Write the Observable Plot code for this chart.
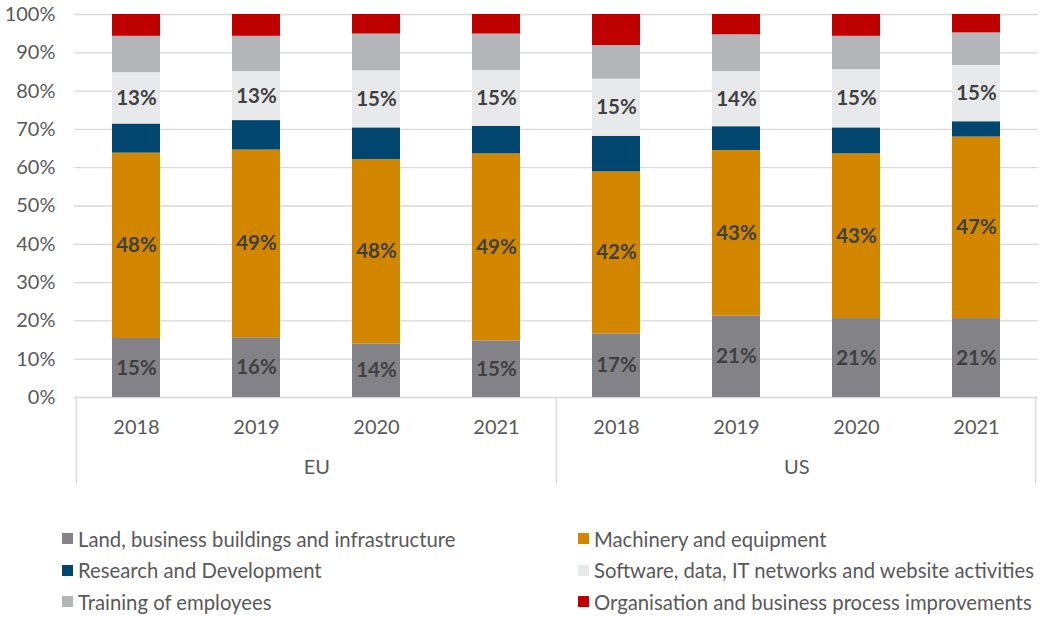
<!DOCTYPE html>
<html>
<head>
<meta charset="utf-8">
<script src="https://cdn.jsdelivr.net/npm/d3@7"></script>
<script src="https://cdn.jsdelivr.net/npm/@observablehq/plot@0.6"></script>
<style>
  body { margin: 0; background: #fff; font-family: "Lato", sans-serif; overflow: hidden; }
  #chart svg { display: block; }
  .legend { display: grid; grid-template-columns: 516px 462px; padding-left: 62px; margin-top: 33px; row-gap: 0; }
  .legend .item { display: flex; align-items: center; height: 31.5px; font-size: 20.3px; color: #595959; white-space: nowrap; }
  .legend .sw { width: 11px; height: 11px; margin-right: 5px; flex: none; }
</style>
</head>
<body>
<div id="chart"></div>
<script>
const regions = ["EU", "EU", "EU", "EU", "US", "US", "US", "US"];
const years = ["2018", "2019", "2020", "2021", "2018", "2019", "2020", "2021"];
const categories = [
  "Land, business buildings and infrastructure",
  "Machinery and equipment",
  "Research and Development",
  "Software, data, IT networks and website activities",
  "Training of employees",
  "Organisation and business process improvements"
];
const colors = ["#838387", "#D38600", "#00466E", "#E8E9EA", "#B4B5B8", "#C00000"];
const land = [15.4, 15.6, 14.0, 14.8, 16.6, 21.3, 20.6, 20.6];
const machinery = [48.4, 49.0, 48.1, 48.8, 42.3, 43.2, 43.0, 47.4];
const research = [7.6, 7.7, 8.3, 7.2, 9.3, 6.2, 6.8, 4.0];
const software = [13.4, 12.8, 14.9, 14.6, 14.9, 14.4, 15.2, 14.7];
const training = [9.5, 9.2, 9.6, 9.5, 8.8, 9.6, 8.7, 8.5];
const organisation = [5.7, 5.7, 5.1, 5.1, 8.1, 5.3, 5.7, 4.8];
const labelled = [true, true, false, true, false, false];
const groupNames = ["EU", "US"];
const yTicks = [0, 0.1, 0.2, 0.3, 0.4, 0.5, 0.6, 0.7, 0.8, 0.9, 1];

const series = [land, machinery, research, software, training, organisation];
const keys = regions.map((r, i) => r + " " + years[i]);
const rows = [];
keys.forEach((k, i) => {
  categories.forEach((c, j) => {
    rows.push({key: k, category: c, value: series[j][i] / 100, label: labelled[j] ? Math.round(series[j][i]) + "%" : ""});
  });
});

const W = 1040, H = 490, ML = 74, MR = 2, MT = 14, MB = 93;
const PI = 0.6, PO = 0.3;
const step = (W - ML - MR) / (keys.length - PI + 2 * PO);
const groupCenters = groupNames.map(g => ({key: g + " 2019"}));
const leftEdges = [{key: "EU 2018"}, {key: "US 2018"}];
const rightEdges = [{key: "US 2021"}];
const textColor = "#595959";

const plot = Plot.plot({
  width: W, height: H,
  marginLeft: ML, marginRight: MR, marginTop: MT, marginBottom: MB,
  style: {fontFamily: '"Lato", sans-serif', fontSize: "20px", color: textColor, background: "#fff"},
  x: {domain: keys, paddingInner: PI, paddingOuter: PO, label: null},
  y: {domain: [0, 1], label: null},
  color: {domain: categories, range: colors},
  marks: [
    Plot.ruleY(yTicks, {stroke: "#d9d9d9", strokeWidth: 1.3}),
    Plot.barY(rows, {x: "key", y: "value", fill: "category", order: categories}),
    Plot.text(rows, Plot.stackY({x: "key", y: "value", z: "category", order: categories, text: "label", fill: "#404040", fontWeight: "bold", fontSize: 20.5})),
    Plot.axisY({ticks: yTicks, tickFormat: d => Math.round(d * 100) + "%", tickSize: 0, tickPadding: 19, fontSize: 20, fill: textColor}),
    Plot.axisX({tickSize: 0, tickPadding: 22, tickFormat: k => k.split(" ")[1], fontSize: 20, fill: textColor}),
    Plot.ruleX(leftEdges, {x: "key", dx: -step / 2, y1: 0, y2: -0.225, stroke: "#d9d9d9", strokeWidth: 1.3}),
    Plot.ruleX(rightEdges, {x: "key", dx: step / 2 - 1, y1: 0, y2: -0.225, stroke: "#d9d9d9", strokeWidth: 1.3}),
    Plot.text(groupCenters, {x: "key", text: d => d.key.split(" ")[0], frameAnchor: "bottom", dx: step / 2, dy: 76, fontSize: 20, fill: textColor})
  ]
});
document.getElementById("chart").appendChild(plot);

const legend = document.createElement("div");
legend.className = "legend";
const legendOrder = [0, 1, 2, 3, 4, 5];
legendOrder.forEach(j => {
  const item = document.createElement("div");
  item.className = "item";
  const sw = document.createElement("span");
  sw.className = "sw";
  sw.style.background = colors[j];
  item.appendChild(sw);
  item.appendChild(document.createTextNode(categories[j]));
  legend.appendChild(item);
});
document.getElementById("chart").appendChild(legend);
</script>
</body>
</html>
